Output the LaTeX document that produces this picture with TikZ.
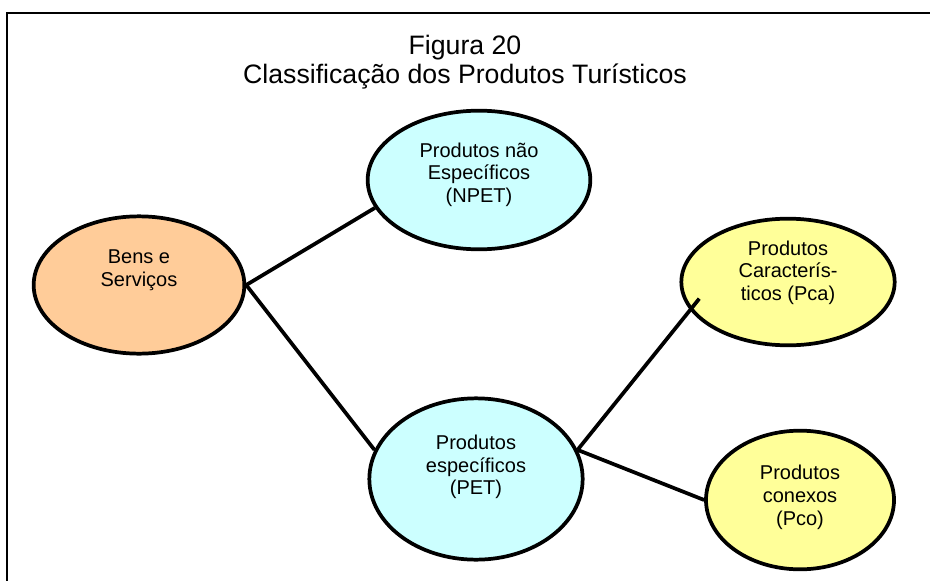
\documentclass[tikz,border=0pt]{standalone}
\usepackage{fontspec}
\setmainfont{Liberation Sans}
\usetikzlibrary{shapes.geometric}
\definecolor{bensfill}{HTML}{FFCC99}
\definecolor{petfill}{HTML}{CCFFFF}
\definecolor{pcafill}{HTML}{FFFF99}

\begin{document}
\begin{tikzpicture}[x=0.75pt,y=-0.75pt,
      blob/.style={ellipse,draw=black,line width=2.8pt,inner sep=0pt},
      txt/.style={align=center,font=\fontsize{15}{17}\selectfont},
      title/.style={font=\fontsize{20}{23}\selectfont,anchor=base},
      link/.style={line width=2.8pt}]
    \useasboundingbox (0,0) rectangle (930,581);
    \fill[white] (0,0) rectangle (930,581);
    \draw[line width=1.6pt] (930,13) -- (7,13) -- (7,581);
    \node[title] (fig) at (465,55) {Figura 20};
    \node[title] (cap) at (465,84) {Classificação dos Produtos Turísticos};
    \node[blob,fill=bensfill,minimum width=158pt,minimum height=103pt,
      label={[txt,yshift=11pt]center:{Bens e\\Serviços}}] (bens) at (139,285) {};
    \node[blob,fill=petfill,minimum width=167pt,minimum height=104pt,
      label={[txt,yshift=4pt]center:{Produtos não\\Específicos\\(NPET)}}] (npet) at (479,180) {};
    \node[blob,fill=petfill,minimum width=160pt,minimum height=121pt,
      label={[txt,yshift=9pt]center:{Produtos\\específicos\\(PET)}}] (pet) at (476,479) {};
    \node[blob,fill=pcafill,minimum width=160pt,minimum height=95pt,
      label={[txt,yshift=7pt]center:{Produtos\\Caracterís-\\ticos (Pca)}}] (pca) at (788,282) {};
    \node[blob,fill=pcafill,minimum width=141pt,minimum height=104pt,
      label={[txt,yshift=2pt]center:{Produtos\\conexos\\(Pco)}}] (pco) at (800,500) {};
    \draw[link] (bens.east) -- (npet.195);
    \draw[link] (bens.east) -- (pet.164);
    \draw[link,shorten >=-11pt] (pet.16) -- (pca.196);
    \draw[link] (pet.16) -- (pco.west);
  \end{tikzpicture}
\end{document}
